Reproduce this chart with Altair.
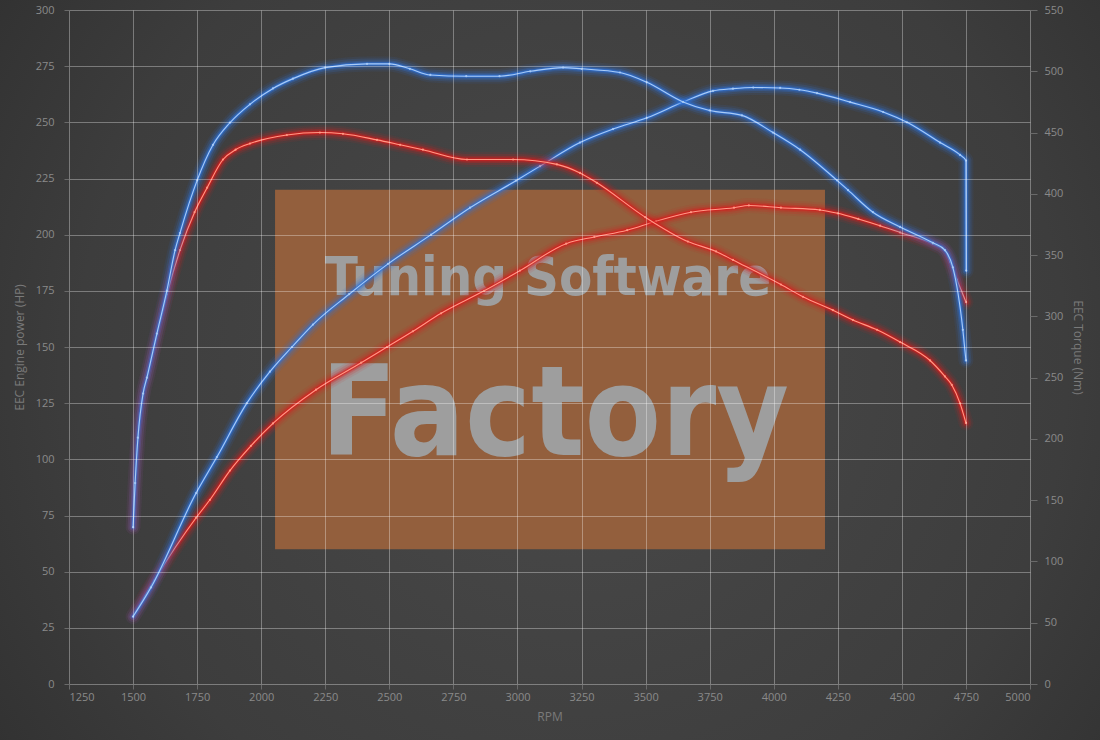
import altair as alt
import pandas as pd

# ---- dyno curves -------------------------------------------------------
# Tuned engine power (HP)
tuned_power_rpm = [1500, 1570, 1746, 1827, 1944, 2034, 2120, 2202, 2343, 2495,
                   2663, 2815, 2994, 3088, 3244, 3373, 3505, 3646, 3763, 3841,
                   3920, 4025, 4100, 4169, 4298, 4427, 4520, 4649, 4727, 4750, 4751]
tuned_power_hp = [30, 43, 85, 101, 125, 139, 150, 160, 173.5, 187,
                  200, 212, 224, 230.5, 241, 247, 252, 259, 264, 265,
                  265.5, 265.3, 264.5, 263, 259, 254.6, 250, 241, 235.5, 233, 184]

# Stock engine power (HP)
stock_power_rpm = [1500, 1582, 1746, 1800, 1878, 1960, 2046, 2214, 2390, 2491,
                   2592, 2702, 2870, 3010, 3190, 3300, 3428, 3541, 3677, 3845,
                   3903, 4028, 4180, 4250, 4330, 4415, 4493, 4621, 4668, 4688,
                   4715, 4750]
stock_power_hp = [30, 46, 74, 82, 95, 106, 116, 131, 143, 150,
                  157, 165, 175, 184, 196, 199, 202, 206, 210, 212,
                  213, 212, 211, 209.5, 207, 204, 201, 196, 193, 188,
                  180, 170]

# Tuned engine torque (Nm)
tuned_torque_rpm = [1500, 1508, 1519, 1539, 1554, 1593, 1632, 1664, 1683, 1750,
                    1812, 1878, 1956, 2046, 2124, 2249, 2413, 2500, 2580, 2660,
                    2800, 2930, 3050, 3178, 3250, 3400, 3505, 3646, 3750, 3876,
                    3997, 4103, 4247, 4290, 4387, 4493, 4621, 4668, 4699, 4738,
                    4750]
tuned_torque_nm = [128, 164, 201, 237, 250, 286, 321, 354, 368, 411,
                   440, 458, 473, 486, 494, 503, 506, 506, 502, 497,
                   496, 496, 500, 503, 502, 499, 491, 475, 468, 464,
                   450, 436, 411, 403, 385, 373, 360, 354, 340, 289,
                   264]

# Stock engine torque (Nm)
stock_torque_rpm = [1500, 1508, 1519, 1539, 1554, 1593, 1632, 1683, 1740, 1789,
                    1851, 1900, 1956, 2100, 2229, 2319, 2452, 2542, 2631, 2803,
                    2983, 3154, 3244, 3310, 3498, 3665, 3775, 3841, 4028, 4114,
                    4231, 4309, 4403, 4493, 4610, 4668, 4695, 4727, 4750]
stock_torque_nm = [128, 164, 201, 237, 250, 285, 318, 354, 385, 405,
                   428, 436, 441, 448, 450, 449, 444, 440, 436, 428,
                   428, 424, 417, 409, 381, 361, 353, 346, 326, 316,
                   305, 297, 289, 279, 264, 251, 244, 229, 213]

# ---- axes --------------------------------------------------------------
rpm_ticks = list(range(1250, 5001, 250))
hp_ticks = list(range(0, 301, 25))
nm_ticks = list(range(0, 551, 50))

# ---- watermark ---------------------------------------------------------
watermark_rpm = [2054, 4200]
watermark_hp = [60, 220]
watermark_lines = ["Tuning Software", "Factory"]
watermark_text_rpm = [3119, 3146]
watermark_text_hp = [173, 102]

W, H = 961, 674
PAD = {"left": 69, "top": 10, "right": 70, "bottom": 56}

LABEL_FONT = "Open Sans"
LABEL_COLOR = "#8a8a8a"
TITLE_COLOR = "#7a7a7a"

x_scale = alt.Scale(domain=[1250, 5000], nice=False, zero=False)
x_axis = alt.Axis(
    values=rpm_ticks, format="d", title="RPM", grid=True,
    gridColor="#ffffff", gridOpacity=0.33, gridWidth=1,
    domain=False, tickSize=5, tickColor="#6a6a6a",
    labelColor=LABEL_COLOR, labelFont=LABEL_FONT, labelFontSize=11,
    labelPadding=2, titleColor=TITLE_COLOR, titleFont=LABEL_FONT,
    titleFontSize=12, titleFontWeight="normal", titlePadding=9, zindex=1,
)
x_enc = alt.X("rpm:Q", scale=x_scale, axis=x_axis)

hp_axis = alt.Axis(
    values=hp_ticks, format="d", title="EEC Engine power (HP)", grid=True,
    gridColor="#ffffff", gridOpacity=0.33, gridWidth=1,
    domain=False, tickSize=5, tickColor="#6a6a6a",
    labelColor=LABEL_COLOR, labelFont=LABEL_FONT, labelFontSize=11,
    labelPadding=10, titleColor=TITLE_COLOR, titleFont=LABEL_FONT,
    titleFontSize=12, titleFontWeight="normal", titlePadding=9, zindex=1,
    orient="left",
)
nm_axis = alt.Axis(
    values=nm_ticks, format="d", title="EEC Torque (Nm)", orient="right",
    grid=False, domain=False, tickSize=7, tickColor="#6a6a6a",
    labelColor=LABEL_COLOR, labelFont=LABEL_FONT, labelFontSize=11,
    labelPadding=7, titleColor=TITLE_COLOR, titleFont=LABEL_FONT,
    titleFontSize=12, titleFontWeight="normal", titlePadding=8, zindex=1,
)

hp_scale = alt.Scale(domain=[0, 300], nice=False)
nm_scale = alt.Scale(domain=[0, 550], nice=False)


def y_hp(field="val", with_axis=False):
    return alt.Y(f"{field}:Q", scale=hp_scale, axis=hp_axis if with_axis else None)


def y_nm(with_axis=False):
    return alt.Y("val:Q", scale=nm_scale, axis=nm_axis if with_axis else None)


def frame(rpm, vals):
    return pd.DataFrame({"rpm": rpm, "val": vals, "i": list(range(len(rpm)))})


def glow_curve(df, y_factory, glow, core, first_axis=False):
    layers = []
    strokes = [(15, 0.09), (11, 0.16), (7, 0.28), (4, 0.45), (2.2, 0.7)]
    for k, (width, alpha) in enumerate(strokes):
        layers.append(
            alt.Chart(df).mark_line(
                color=glow, strokeWidth=width, opacity=alpha,
                interpolate="monotone", strokeCap="round", strokeJoin="round",
            ).encode(x=x_enc, y=y_factory(with_axis=(first_axis and k == 0)), order="i:Q")
        )
    layers.append(
        alt.Chart(df).mark_line(
            color=core, strokeWidth=1.1, interpolate="monotone", strokeCap="round",
        ).encode(x=x_enc, y=y_factory(), order="i:Q")
    )
    layers.append(
        alt.Chart(df).mark_circle(color=core, size=5, opacity=0.9)
        .encode(x=x_enc, y=y_factory())
    )
    return layers


BLUE_GLOW, BLUE_CORE = "#2f74da", "#a9cbf6"
RED_GLOW, RED_CORE = "#d81c1c", "#ff9a86"

# full-canvas dark radial backdrop
backdrop = alt.Chart(pd.DataFrame({"k": [0]})).mark_rect(
    fill={
        "gradient": "radial",
        "x1": 0.52, "y1": 0.5, "r1": 0,
        "x2": 0.52, "y2": 0.5, "r2": 0.75,
        "stops": [
            {"offset": 0, "color": "#4a4a4a"},
            {"offset": 0.6, "color": "#3d3d3d"},
            {"offset": 1, "color": "#2a2a2a"},
        ],
    },
    strokeWidth=0,
).encode(
    x=alt.value(-PAD["left"]), x2=alt.value(W + PAD["right"]),
    y=alt.value(-PAD["top"]), y2=alt.value(H + PAD["bottom"]),
)

wm_df = pd.DataFrame({"rpm": [watermark_rpm[0]], "rpm2": [watermark_rpm[1]],
                      "hp": [watermark_hp[0]], "hp2": [watermark_hp[1]]})
wm_rect = alt.Chart(wm_df).mark_rect(color="#935f3d").encode(
    x=x_enc, x2="rpm2:Q", y=y_hp("hp", with_axis=True), y2="hp2:Q",
)

WM_FONT = "DejaVu Sans Condensed"
wm_texts = []
for txt, r, h, fs in zip(watermark_lines, watermark_text_rpm, watermark_text_hp, [54, 124]):
    tdf = pd.DataFrame({"rpm": [r], "val": [h], "t": [txt]})
    wm_texts.append(
        alt.Chart(tdf).mark_text(
            font=WM_FONT, fontWeight="bold", fontSize=fs, color="#9e9e9e",
            align="center", baseline="alphabetic",
        ).encode(x=x_enc, y=y_hp(), text="t:N")
    )

layers = [backdrop, wm_rect, *wm_texts]
layers += glow_curve(frame(stock_power_rpm, stock_power_hp), y_hp, RED_GLOW, RED_CORE)
layers += glow_curve(frame(tuned_power_rpm, tuned_power_hp), y_hp, BLUE_GLOW, BLUE_CORE)
layers += glow_curve(frame(stock_torque_rpm, stock_torque_nm), y_nm, RED_GLOW, RED_CORE,
                     first_axis=True)
layers += glow_curve(frame(tuned_torque_rpm, tuned_torque_nm), y_nm, BLUE_GLOW, BLUE_CORE)

chart = (
    alt.layer(*layers)
    .resolve_scale(y="independent")
    .properties(
        width=W, height=H,
        autosize=alt.AutoSizeParams(type="none"),
        padding=PAD,
        background="#333333",
    )
    .configure_view(stroke=None)
)

chart.save("out.html", embed_options={"renderer": "svg", "actions": False})
